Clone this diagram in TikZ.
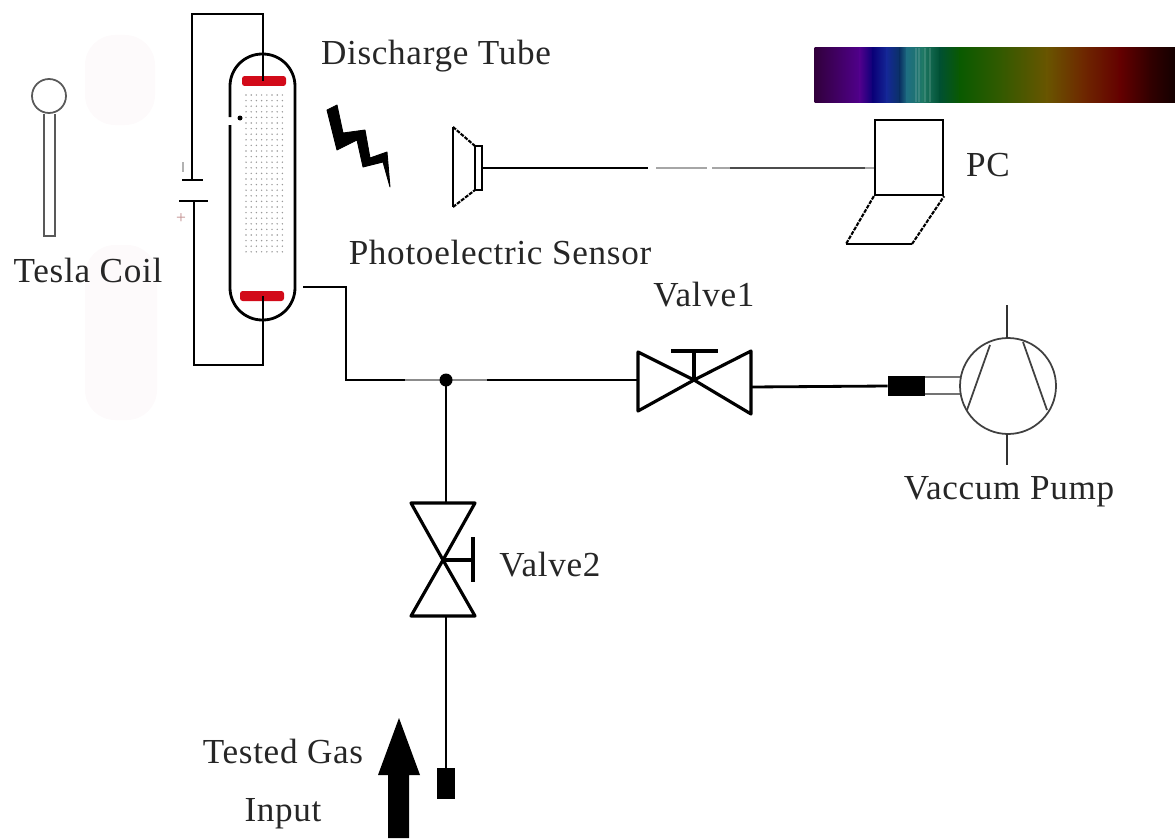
\documentclass[tikz,border=0pt]{standalone}
\usepackage{fontspec}
\setmainfont[LetterSpace=2]{Liberation Serif}
\definecolor{specA}{RGB}{50,0,60}
\definecolor{specB}{RGB}{80,0,140}
\definecolor{specC}{RGB}{10,0,120}
\definecolor{specD}{RGB}{20,40,150}
\definecolor{specE}{RGB}{10,50,100}
\definecolor{specF}{RGB}{30,110,130}
\definecolor{specG}{RGB}{30,120,100}
\definecolor{specH}{RGB}{0,80,50}
\definecolor{specI}{RGB}{10,90,0}
\definecolor{specJ}{RGB}{50,90,0}
\definecolor{specK}{RGB}{105,85,0}
\definecolor{specL}{RGB}{110,40,0}
\definecolor{specM}{RGB}{100,0,0}
\definecolor{specN}{RGB}{50,0,0}
\definecolor{specO}{RGB}{20,0,0}
\definecolor{ghost}{RGB}{253,250,251}
\definecolor{electrode}{RGB}{210,10,25}
\tikzset{
  label text/.style={font=\fontsize{20}{24}\selectfont,text=black!85},
  wire/.style={line width=1.6pt,line join=miter},
  valve/.style={line width=1.8pt,line join=round},
  broken/.style={line width=1.2pt,dash pattern=on 2.2pt off 0.7pt},
  electrode bar/.style={fill=electrode,rounded corners=1.5pt,minimum width=0.88cm,minimum height=0.2cm,inner sep=0pt},
}
\begin{document}
\begin{tikzpicture}[x=0.02cm,y=-0.02cm]
  \useasboundingbox (0,0) rectangle (1175,838);
  \coordinate (TopOut) at (263,14);
  \coordinate (TopCorner) at (192,14);
  \coordinate (CapTop) at (192,180);
  \coordinate (CapBottom) at (194,201);
  \coordinate (BottomCorner) at (194,365);
  \coordinate (BottomOut) at (263,365);
  \coordinate (TubeOut) at (303,287);
  \coordinate (PipeA) at (346,287);
  \coordinate (PipeB) at (346,380);
  \coordinate (Junction) at (446,380);
  \coordinate (ValveA) at (694,380);
  \coordinate (ValveB) at (443,560);
  \coordinate (Pump) at (1008,386);
  % faint marks
  \fill[ghost,rounded corners=0.6cm] (85,35) rectangle (155,125);
  \fill[ghost,rounded corners=0.6cm] (85,245) rectangle (157,420);
  % spectrum
  \foreach \xa/\xb/\ca/\cb in {815/860/specA/specB,860/873/specB/specC,873/887/specC/specD,
    887/900/specD/specE,900/907/specE/specF,907/923/specF/specG,923/940/specG/specH,
    940/960/specH/specI,960/1000/specI/specJ,1000/1047/specJ/specK,1047/1083/specK/specL,
    1083/1120/specL/specM,1120/1150/specM/specN,1150/1175/specN/specO}
    \shade[left color=\ca,right color=\cb] (\xa-0.3,48) rectangle (\xb+0.3,102);
  \foreach \xa in {915,918,924,929}
    \fill[white,opacity=0.13] (\xa,48) rectangle (\xa+1.5,102);
  % tesla coil
  \draw[black!65,line width=1pt] (49,96) circle[radius=17];
  \draw[black!65,line width=1pt] (44,114) -- (44,236) -- (55,236) -- (55,114);
  \node[label text] (TeslaLabel) at (88,270) {Tesla Coil};
  % discharge tube
  \foreach \i in {0,...,7}
    \foreach \j in {0,...,28}
      \fill[black!40] (246+5.2*\i,95+5.6*\j) circle[radius=0.8];
  \node[electrode bar] (ElectrodeTop) at (264,81) {};
  \node[electrode bar] (ElectrodeBottom) at (262,296) {};
  \draw[wire,rounded corners=0.645cm] (230,125) -- (230,320) -- (295,320) -- (295,54) -- (230,54) -- (230,117);
  \fill (240,118) circle[radius=2.5];
  \draw[wire] (TopOut |- ElectrodeTop) -- (TopOut) -- (TopCorner) -- (CapTop);
  \draw[wire] (CapBottom) -- (BottomCorner) -- (BottomOut) -- (BottomOut |- ElectrodeBottom);
  \draw[wire] (182,180) -- (203,180);
  \draw[wire] (179,201) -- (208,201);
  \draw[black!30,line width=1.6pt] (183,162) -- (183,172);
  \node[text=red!45!black!45,font=\normalsize,inner sep=0pt] (CapPlus) at (181,219) {+};
  \node[label text] (TubeLabel) at (436,56) {Discharge Tube};
  % light from the tube
  \fill[draw,line width=0.5pt,line join=round] (327,110) -- (337,105) -- (343,133) -- (365,130) -- (370,158) -- (387,152) -- (390,187)
    -- (383,162) -- (363,167) -- (357,140) -- (337,150) -- cycle;
  % sensor
  \draw[line width=1.1pt] (453,127) -- (453,207);
  \draw[broken] (453,127) -- (475,146);
  \draw[broken] (453,207) -- (475,190);
  \draw[line width=1.1pt] (475,146) rectangle (482,190);
  \coordinate (SensorOut) at (482,168);
  \coordinate (PcIn) at (875,168);
  \draw[wire] (SensorOut) -- (648,168);
  \draw[black!35,line width=0.7pt] (656,168) -- (707,168);
  \draw[black!35,line width=0.7pt] (712,168) -- (PcIn);
  \draw[black!70,line width=0.8pt] (730,168) -- (865,168);
  \node[label text] (SensorLabel) at (500,252) {Photoelectric Sensor};
  % pc
  \node[draw,line width=1.3pt,minimum width=1.36cm,minimum height=1.5cm,inner sep=0pt] (Screen) at (909,157.5) {};
  \draw[broken] (Screen.south west) -- (846,244);
  \draw[line width=1.2pt] (846,244) -- (912,244);
  \draw[broken] (912,244) -- (Screen.south east);
  \node[label text] (PcLabel) at (988,165) {PC};
  % pipes
  \draw[wire] (TubeOut) -- (PipeA) -- (PipeB) -- (405,380);
  \draw[black!45,line width=1.2pt] (405,380) -- (Junction);
  \draw[black!45,line width=1.2pt] (Junction) -- (487,380);
  \draw[wire] (487,380) -- (638,380);
  \fill (Junction) circle[radius=6.5];
  % valve 1
  \draw[valve] (ValveA) -- (638,352) -- (638,411) -- cycle;
  \draw[valve] (ValveA) -- (751,351) -- (751,414) -- cycle;
  \draw[valve] (ValveA) -- (694,351);
  \draw[valve] (671,351) -- (718,351);
  \node[label text] (ValveOneLabel) at (704,295) {Valve1};
  % pump
  \node[fill,minimum width=0.74cm,minimum height=0.4cm,inner sep=0pt] (Filter) at (906.5,386) {};
  \draw[wire] (751,387) -- (Filter.west);
  \draw[black!55,line width=1.5pt] (925,377) -- (961,377);
  \draw[black!55,line width=1.5pt] (925,394) -- (961,394);
  \draw[black!75,line width=1pt] (Pump) circle[radius=48];
  \draw[black!80,line width=1pt] (1007,305) -- (1007,338);
  \draw[black!80,line width=1pt] (1007,434) -- (1007,465);
  \draw[black!75,line width=1pt] (990,345) -- (967,410);
  \draw[black!75,line width=1pt] (1023,342) -- (1047,410);
  \node[label text] (PumpLabel) at (1009,492) {Vaccum Pump};
  % valve 2
  \draw[wire] (Junction) -- (446,503);
  \draw[valve] (ValveB) -- (411,503) -- (475,503) -- cycle;
  \draw[valve] (ValveB) -- (411,616) -- (475,616) -- cycle;
  \draw[valve] (ValveB) -- (473,560);
  \draw[valve] (473,537) -- (473,582);
  \node[label text] (ValveTwoLabel) at (550,565) {Valve2};
  % gas input
  \node[fill,minimum width=0.36cm,minimum height=0.62cm,inner sep=0pt] (Inlet) at (446,783.5) {};
  \draw[wire] (446,616) -- (Inlet.north);
  \fill (388,838) -- (388,775) -- (378,775) -- (399,718) -- (420,775) -- (409,775) -- (409,838) -- cycle;
  \node[label text] (GasLabel) at (283,751) {Tested Gas};
  \node[label text] (InputLabel) at (283,814) {Input};
\end{tikzpicture}
\end{document}
